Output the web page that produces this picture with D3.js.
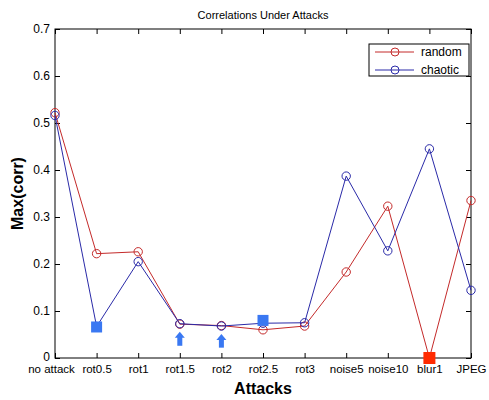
<!DOCTYPE html>
<html>
<head>
<meta charset="utf-8">
<script src="https://cdn.jsdelivr.net/npm/d3@7"></script>
<style>
  body { margin: 0; background: #fff; }
  text { font-family: "Liberation Sans", Arial, sans-serif; }
</style>
</head>
<body>
<div id="frame"></div>
<script>
// data
let attacks = ['no attack', 'rot0.5', 'rot1', 'rot1.5', 'rot2', 'rot2.5', 'rot3', 'noise5', 'noise10', 'blur1', 'JPEG'];
let randomVals = [0.522, 0.222, 0.226, 0.072, 0.069, 0.060, 0.068, 0.183, 0.323, 0.0, 0.335];
let chaoticVals = [0.516, 0.067, 0.205, 0.073, 0.068, 0.074, 0.075, 0.387, 0.228, 0.445, 0.144];
let yTicks = [0, 0.1, 0.2, 0.3, 0.4, 0.5, 0.6, 0.7];

// annotations drawn on top of the curves
let blueSquares = [{ cat: 'rot0.5', v: 0.066 }, { cat: 'rot2.5', v: 0.080 }];
let redSquares = [{ cat: 'blur1', v: 0.0 }];
let arrows = [{ cat: 'rot1.5', v0: 0.026, v1: 0.056 }, { cat: 'rot2', v0: 0.022, v1: 0.051 }];

let margin = { top: 29, right: 18, bottom: 42, left: 55 },
    width = 489 - margin.left - margin.right,
    height = 400 - margin.top - margin.bottom;

let svg = d3.select('#frame')
    .append('svg')
    .attr('width', 489)
    .attr('height', 400)
    .append('g')
    .attr('transform', 'translate(' + margin.left + ',' + margin.top + ')');

let x = d3.scalePoint().domain(attacks).range([0, width]);
let y = d3.scaleLinear().domain([0, 0.7]).range([height, 0]);

let red = '#c42a2a', blue = '#2a2aa8';

// axes (ticks pointing inward, mirrored top/right)
let axisStyle = g => {
    g.select('.domain').remove();
    g.selectAll('line').attr('stroke', '#000');
    g.selectAll('text').style('font-size', '12px').attr('fill', '#000');
};
svg.append('g')
    .attr('transform', 'translate(0,' + height + ')')
    .call(d3.axisBottom(x).tickSizeInner(-5).tickSizeOuter(0).tickPadding(7))
    .call(axisStyle)
    .call(g => g.selectAll('text')
        .style('font-size', '11.5px')
        .attr('dx', (d, i) => i === 0 ? -4 : 0));
svg.append('g')
    .call(d3.axisTop(x).tickSizeInner(-5).tickSizeOuter(0).tickFormat(''))
    .call(axisStyle);
svg.append('g')
    .call(d3.axisLeft(y).tickValues(yTicks).tickSizeInner(-5).tickSizeOuter(0).tickPadding(5)
        .tickFormat(d => d === 0 ? '0' : d3.format('.1f')(d)))
    .call(axisStyle)
    .call(g => g.selectAll('text').filter(d => d === 0).attr('dy', '0.2em'));
svg.append('g')
    .attr('transform', 'translate(' + width + ',0)')
    .call(d3.axisRight(y).tickValues(yTicks).tickSizeInner(-5).tickSizeOuter(0).tickFormat(''))
    .call(axisStyle);
svg.append('rect')
    .attr('width', width)
    .attr('height', height)
    .attr('fill', 'none')
    .attr('stroke', '#000')
    .attr('stroke-width', 1);

// series
let line = d3.line().x((d, i) => x(attacks[i])).y(d => y(d));
[[randomVals, red], [chaoticVals, blue]].forEach(([vals, c]) => {
    svg.append('path')
        .datum(vals)
        .attr('d', line)
        .attr('fill', 'none')
        .attr('stroke', c)
        .attr('stroke-width', 1);
    svg.append('g').selectAll('circle')
        .data(vals)
        .enter()
        .append('circle')
        .attr('cx', (d, i) => x(attacks[i]))
        .attr('cy', d => y(d))
        .attr('r', 4.2)
        .attr('fill', 'none')
        .attr('stroke', c)
        .attr('stroke-width', 1);
});

// squares
svg.append('g').selectAll('rect')
    .data(blueSquares)
    .enter()
    .append('rect')
    .attr('x', d => x(d.cat) - 5.5)
    .attr('y', d => y(d.v) - 5.5)
    .attr('width', 11)
    .attr('height', 11)
    .attr('fill', '#3a78f2');
svg.append('g').selectAll('rect')
    .data(redSquares)
    .enter()
    .append('rect')
    .attr('x', d => x(d.cat) - 6)
    .attr('y', d => y(d.v) - 6)
    .attr('width', 12)
    .attr('height', 12)
    .attr('fill', '#ff2a00');

// arrows pointing up
let arrowG = svg.append('g').selectAll('g')
    .data(arrows)
    .enter()
    .append('g');
arrowG.append('rect')
    .attr('x', d => x(d.cat) - 2.5)
    .attr('y', d => y(d.v1) + 5)
    .attr('width', 5)
    .attr('height', d => y(d.v0) - y(d.v1) - 5)
    .attr('fill', '#3a78f2');
arrowG.append('path')
    .attr('d', d => {
        let cx = x(d.cat), t = y(d.v1);
        return 'M' + cx + ',' + t + 'L' + (cx + 5) + ',' + (t + 6) + 'L' + (cx - 5) + ',' + (t + 6) + 'Z';
    })
    .attr('fill', '#3a78f2');

// legend
let lg = svg.append('g').attr('transform', 'translate(' + (width - 102) + ',15)');
lg.append('rect')
    .attr('width', 100)
    .attr('height', 32)
    .attr('fill', '#fff')
    .attr('stroke', '#000');
[['random', red], ['chaotic', blue]].forEach(([name, c], i) => {
    let yy = 8 + i * 18;
    lg.append('line')
        .attr('x1', 6).attr('x2', 45)
        .attr('y1', yy).attr('y2', yy)
        .attr('stroke', c);
    lg.append('circle')
        .attr('cx', 26).attr('cy', yy).attr('r', 4)
        .attr('fill', 'none').attr('stroke', c);
    lg.append('text')
        .attr('x', 52).attr('y', yy + 4)
        .style('font-size', '12px')
        .text(name);
});

// titles
svg.append('text')
    .attr('x', width / 2)
    .attr('y', -10)
    .attr('text-anchor', 'middle')
    .style('font-size', '11px')
    .text('Correlations Under Attacks');
svg.append('text')
    .attr('x', width / 2)
    .attr('y', height + 36)
    .attr('text-anchor', 'middle')
    .style('font-size', '16px')
    .style('font-weight', 'bold')
    .text('Attacks');
svg.append('text')
    .attr('transform', 'rotate(-90)')
    .attr('x', -height / 2)
    .attr('y', -32)
    .attr('text-anchor', 'middle')
    .style('font-size', '16px')
    .style('font-weight', 'bold')
    .text('Max(corr)');
</script>
</body>
</html>
